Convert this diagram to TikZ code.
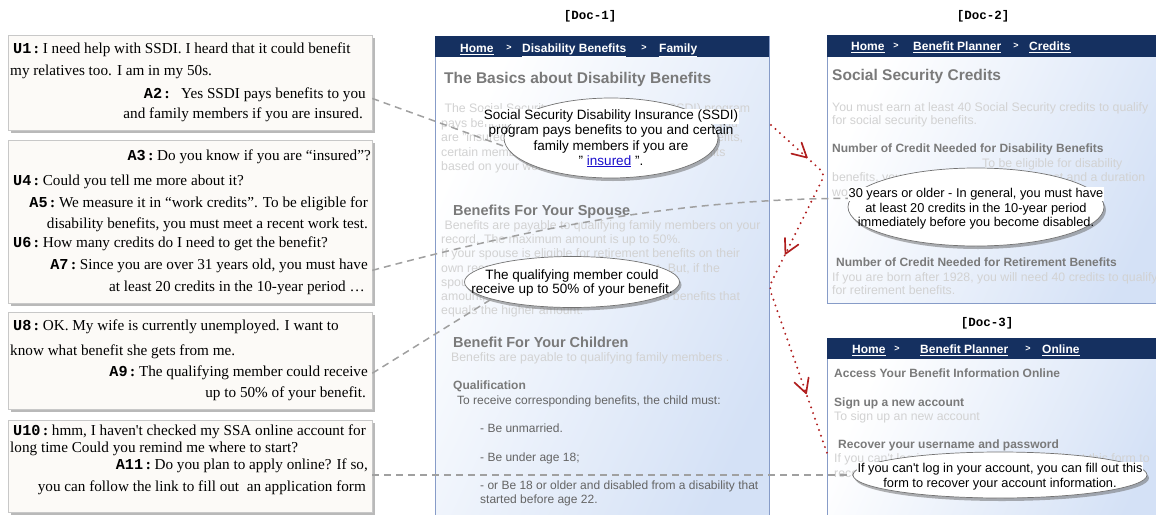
\documentclass[tikz,border=0pt]{standalone}
\usepackage{fontspec}
\setmainfont{Liberation Serif}
\setsansfont{Liberation Sans}
\setmonofont{Liberation Mono}
\usetikzlibrary{shadows,shapes.geometric,decorations.markings}

\definecolor{navy}{RGB}{21,48,96}
\definecolor{paneltint}{RGB}{212,225,246}
\definecolor{panelrule}{RGB}{135,156,200}
\definecolor{headgray}{RGB}{122,122,122}
\definecolor{bodygray}{RGB}{100,100,100}
\definecolor{fadegray}{RGB}{210,210,210}
\definecolor{linkblue}{RGB}{26,13,204}
\definecolor{boxfill}{RGB}{252,250,247}
\definecolor{boxrule}{RGB}{200,200,200}
\definecolor{traceline}{RGB}{160,160,160}
\definecolor{hopred}{RGB}{176,30,30}

\newcommand{\spk}[1]{{\ttfamily\bfseries #1}\,{\bfseries:}\ }
\newcommand{\fs}[2]{\fontsize{#1}{#2}\selectfont}
% open chevron placed along the hop path
\newcommand{\chevron}{\draw[solid, sharp corners, line width=1.7pt, line cap=round, line join=round]
  (-14pt,-7.5pt) -- (0pt,0pt) -- (-14pt,7.5pt);}

\begin{document}
\begin{tikzpicture}[x=1pt,y=-1pt,
  turn/.style={draw=boxrule, fill=boxfill, line width=0.6pt, inner sep=0pt,
    minimum width=364pt,
    drop shadow={shadow xshift=2.5pt, shadow yshift=-2.5pt, fill=black!50, opacity=0.55}},
  say/.style={inner sep=0pt, font=\fs{15.2}{17}},
  sayw/.style={say, anchor=base west},
  saye/.style={say, anchor=base east},
  tag/.style={inner sep=0pt, font=\ttfamily\bfseries\fs{12.5}{14}},
  nav/.style={inner sep=0pt, anchor=base west, font=\sffamily\bfseries\fs{12}{14}, text=white},
  navsep/.style={inner sep=0pt, font=\sffamily\bfseries\fs{9}{10}, text=white},
  faded/.style={inner sep=0pt, anchor=base west, font=\sffamily\fs{12.3}{14}, text=fadegray},
  headA/.style={inner sep=0pt, anchor=base west, font=\sffamily\bfseries\fs{15.5}{18}, text=headgray},
  headB/.style={inner sep=0pt, anchor=base west, font=\sffamily\bfseries\fs{14.5}{17}, text=headgray},
  headC/.style={inner sep=0pt, anchor=base west, font=\sffamily\bfseries\fs{12}{14}, text=headgray},
  plain/.style={inner sep=0pt, anchor=base west, font=\sffamily\fs{12}{14}, text=bodygray},
  bubble/.style={ellipse, inner sep=0pt, draw=black!55, line width=0.7pt, fill=white,
    drop shadow={shadow xshift=2pt, shadow yshift=-3pt, fill=black!60, opacity=0.5}},
  quip/.style={inner sep=0pt, anchor=base, font=\sffamily\fs{13.5}{15}},
  quipsm/.style={inner sep=0pt, anchor=base, font=\sffamily\fs{12.8}{15}},
  trace/.style={draw=traceline, line width=1.5pt, dash pattern=on 7pt off 5pt},
  hop/.style={draw=hopred, line width=2.2pt, line cap=round, dash pattern=on 0pt off 6pt,
    rounded corners=6pt}
]
\useasboundingbox (0,0) rectangle (1156,514);

% ---------------- dialogue turns ----------------
\node[turn, minimum height=95pt]  (d1) at (190,82.5) {};
\node[turn, minimum height=163pt] (d2) at (190,221.5) {};
\node[turn, minimum height=97pt]  (d3) at (190,360.5) {};
\node[turn, minimum height=92pt]  (d4) at (190,466) {};

\node[sayw] (u1a) at (13,53)  {\spk{U1}I need help with SSDI. I heard that it could benefit};
\node[sayw] (u1b) at (10,75)  {my relatives too. I am in my 50s.};
\node[saye] (a2a) at (366,98) {\spk{A2}\ \ Yes SSDI pays benefits to you};
\node[saye] (a2b) at (363,118) {and family members if you are insured.};

\node[saye] (a3)  at (371,160) {\spk{A3}Do you know if you are “insured”?};
\node[sayw] (u4)  at (13,185)  {\spk{U4}Could you tell me more about it?};
\node[saye] (a5a) at (368,207) {\spk{A5}We measure it in “work credits”. To be eligible for};
\node[saye] (a5b) at (368,228) {disability benefits, you must meet a recent work test.};
\node[sayw] (u6)  at (13,247)  {\spk{U6}How many credits do I need to get the benefit?};
\node[saye] (a7a) at (368,269) {\spk{A7}Since you are over 31 years old, you must have};
\node[saye] (a7b) at (365,291) {at least 20 credits in the 10-year period …};

\node[sayw] (u8a) at (13,330)  {\spk{U8}OK. My wife is currently unemployed. I want to};
\node[sayw] (u8b) at (10,355)  {know what benefit she gets from me.};
\node[saye] (a9a) at (368,376) {\spk{A9}The qualifying member could receive};
\node[saye] (a9b) at (366,397) {up to 50\% of your benefit.};

\node[sayw] (u10a) at (13,435) {\spk{U10}hmm, I haven\textquotesingle t checked my SSA online account for};
\node[sayw] (u10b) at (10,452) {long time Could you remind me where to start?};
\node[saye] (a11a) at (368,469) {\spk{A11}Do you plan to apply online? If so,};
\node[saye] (a11b) at (366,491) {you can follow the link to fill out\ \ an application form};

% ---------------- page panels ----------------
\node[tag] (tag1) at (590,16)  {[Doc-1]};
\node[tag] (tag2) at (983,16)  {[Doc-2]};
\node[tag] (tag3) at (987,323) {[Doc-3]};

\shade[top color=white, bottom color=paneltint, shading angle=65] (435,57) rectangle (769,530);
\draw[panelrule, line width=0.9pt] (435,36) rectangle (769,530);
\fill[navy] (435,36) rectangle (769,57);

\shade[top color=white, bottom color=paneltint, shading angle=65] (827,57) rectangle (1170,303);
\draw[panelrule, line width=0.9pt] (827,35) rectangle (1170,303);
\fill[navy] (827,35) rectangle (1170,57);

\shade[top color=white, bottom color=paneltint, shading angle=65] (827,359) rectangle (1170,530);
\draw[panelrule, line width=0.9pt] (827,338) rectangle (1170,530);
\fill[navy] (827,338) rectangle (1170,359);

% navigation bars
\node[nav] (n1a) at (460,52.5) {\underline{Home}};
\node[navsep] (n1b) at (509,48) {>};
\node[nav] (n1c) at (522,52.5) {\underline{Disability Benefits}};
\node[navsep] (n1d) at (644,48) {>};
\node[nav] (n1e) at (659,52.5) {\underline{Family}};

\node[nav] (n2a) at (851,50.5) {\underline{Home}};
\node[navsep] (n2b) at (896,46) {>};
\node[nav] (n2c) at (913,50.5) {\underline{Benefit Planner}};
\node[navsep] (n2d) at (1016,46) {>};
\node[nav] (n2e) at (1029,50.5) {\underline{Credits}};

\node[nav] (n3a) at (852,353.5) {\underline{Home}};
\node[navsep] (n3b) at (897,349) {>};
\node[nav] (n3c) at (920,353.5) {\underline{Benefit Planner}};
\node[navsep] (n3d) at (1028,349) {>};
\node[nav] (n3e) at (1042,353.5) {\underline{Online}};

% Doc-1 page text
\node[headA] (p1h) at (444,83.5) {The Basics about Disability Benefits};
\node[faded] (p1a) at (441,112.5) {\ The Social Security Disability Insurance (SSDI) program};
\node[faded] (p1b) at (441,127)   {pays benefits to you and certain family members if you};
\node[faded] (p1c) at (441,141.5) {are "insured". If you are insured, certain family benefits,};
\node[faded] (p1d) at (441,156)   {certain members of your family may receive benefits};
\node[faded] (p1e) at (441,170)   {based on your work.};

\node[headB] (p1s) at (453,215) {Benefits For Your Spouse};
\node[faded] (p1s1) at (441,229.5) {\ Benefits are payable to qualifying family members on your};
\node[faded] (p1s2) at (441,243.7) {record. The maximum amount is up to 50\%.};
\node[faded] (p1s3) at (441,257.9) {If your spouse is eligible for retirement benefits on their};
\node[faded] (p1s4) at (441,272.1) {own record, we will pay that amount first. But, if the};
\node[faded] (p1s5) at (441,286.3) {spouse\textquotesingle s benefit on your record is a higher};
\node[faded] (p1s6) at (441,300.5) {amount, they will get a combination of two benefits that};
\node[faded] (p1s7) at (441,314.7) {equals the higher amount.};

\node[headB] (p1k) at (453,347) {Benefit For Your Children};
\node[faded] (p1k1) at (451,361.5) {Benefits are payable to qualifying family members .};
\node[headC] (p1q) at (453,389.5) {Qualification};
\node[plain] (p1q1) at (457,404.5) {To receive corresponding benefits, the child must:};
\node[plain] (p1q2) at (480,432.5) {- Be unmarried.};
\node[plain] (p1q3) at (480,461.5) {- Be under age 18;};
\node[plain] (p1q4) at (480,489.5) {- or Be 18 or older and disabled from a disability that};
\node[plain] (p1q5) at (480,503.5) {started before age 22.};

% Doc-2 page text
\node[headA] (p2h) at (832,80.5) {Social Security Credits};
\node[faded] (p2a) at (832,111.5) {You must earn at least 40 Social Security credits to qualify};
\node[faded] (p2b) at (832,124.5) {for social security benefits.};
\node[headC] (p2d) at (832,152.5) {Number of Credit Needed for Disability Benefits};
\node[faded] (p2d1) at (982,167.5) {To be eligible for disability};
\node[faded] (p2d2) at (832,181.5) {benefits, you must meet a recent work test and a duration};
\node[faded] (p2d3) at (832,196.5) {work test.};
\node[headC] (p2r) at (836,266.5) {Number of Credit Needed for Retirement Benefits};
\node[faded] (p2r1) at (832,281.5) {If you are born after 1928, you will need 40 credits to qualify};
\node[faded] (p2r2) at (832,294.5) {for retirement benefits.};

% Doc-3 page text
\node[headC] (p3h) at (834,377.5) {Access Your Benefit Information Online};
\node[headC] (p3s) at (834,406.5) {Sign up a new account};
\node[faded] (p3s1) at (834,420.5) {To sign up an new account};
\node[headC] (p3r) at (838,448.5) {Recover your username and password};
\node[faded] (p3r1) at (834,462.5) {If you can\textquotesingle t log in your account, you can fill out this form to};
\node[faded] (p3r2) at (834,477.5) {recover your account information.};

% ---------------- links from turns to passages ----------------
\node[bubble, minimum width=214pt, minimum height=80pt] (bbasics) at (611,138) {};
\node[bubble, minimum width=215pt, minimum height=51pt] (bspouse) at (572,282) {};
\node[bubble, minimum width=256pt, minimum height=78pt] (bcredit) at (976,207) {};
\node[bubble, minimum width=294pt, minimum height=46pt] (bonline) at (1000,475) {};

\draw[trace] (d1.-5) -- (bbasics.185);
\draw[trace] (d2.-15) .. controls (560,220) and (700,199) .. (bcredit.176);
\draw[trace] (d3.-4) -- (bspouse.192);
\draw[trace] (d4.east |- bonline.west) -- (bonline.west);

% passage texts inside the callouts
\node[quip, fill=white, inner sep=1pt] (q1a) at (611,119.7) {Social Security Disability Insurance (SSDI)};
\node[quip] (q1b) at (611,134.7) {program pays benefits to you and certain};
\node[quip] (q1c) at (611,150)   {family members if you are};
\node[quip] (q1d) at (611,165)   {" \textcolor{linkblue}{\underline{insured}} ".};

\node[quip] (q2a) at (572,279) {The qualifying member could};
\node[quip] (q2b) at (572,293) {receive up to 50\% of your benefit.};

\node[quipsm, fill=white, inner sep=1pt] (q3a) at (976,197.5) {30 years or older - In general, you must have};
\node[quipsm] (q3b) at (976,212.5) {at least 20 credits in the 10-year period};
\node[quipsm] (q3c) at (976,226.5) {immediately before you become disabled.};

\node[quipsm, fill=white, inner sep=1pt] (q4a) at (1000,472.5) {If you can\textquotesingle t log in your account, you can fill out this};
\node[quipsm] (q4b) at (1000,487.5) {form to recover your account information.};

% ---------------- hops between pages ----------------
\coordinate (h0) at (771,125);
\coordinate (h1) at (825,174);
\coordinate (h2) at (769,287);
\coordinate (h3) at (827,453);
\draw[hop, postaction={decorate}, decoration={markings,
    mark=at position 0.13 with {\chevron},
    mark=at position 0.43 with {\chevron},
    mark=at position 0.83 with {\chevron}}]
  (h0) -- (h1) -- (h2) -- (h3);
\end{tikzpicture}
\end{document}
